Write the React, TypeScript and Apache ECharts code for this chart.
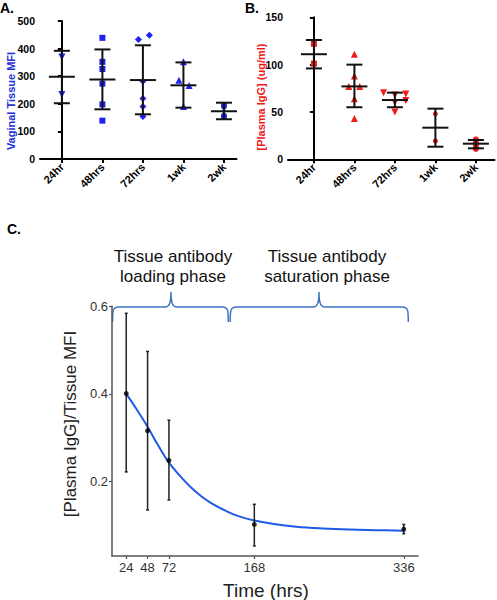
import React, { useEffect, useRef } from "react";
import * as echarts from "echarts";

// ---------- Panel A: Vaginal tissue MFI ----------
const categories = ["24hr", "48hrs", "72hrs", "1wk", "2wk"];
const tissueMean = [298, 288, 286, 267, 173];
const tissueLow = [202, 180, 162, 186, 144];
const tissueHigh = [392, 397, 412, 350, 204];
const tissue24 = [370, 234];
const tissue48 = [439, 352, 326, 273, 198, 139];
const tissue72 = [433, 448, 282, 219, 190, 154];
const tissue72Jitter = [-0.11, 0.16, 0, 0, 0, 0];
const tissue1wk = [352, 285, 266, 190];
const tissue1wkJitter = [0, -0.11, 0.14, 0];
const tissue2wk = [196, 190, 157, 152];

// ---------- Panel B: Plasma IgG ----------
const plasmaMean = [111, 77, 62.6, 33.4, 16.5];
const plasmaLow = [96, 55, 55, 13.3, 11.6];
const plasmaHigh = [126, 100, 70.4, 53.5, 20.4];
const plasma24 = [122, 101];
const plasma48 = [111, 88, 77, 77, 64, 43];
const plasma48Jitter = [0, 0, -0.14, 0.13, 0, 0];
const plasma72 = [70.4, 68, 69, 62, 60, 50];
const plasma72Jitter = [-0.28, 0, 0.27, 0.27, 0, 0];
const plasma1wk = [48, 19.3];
const plasma2wk = [21, 18, 15.5, 13, 11];

// ---------- Panel C: ratio over time ----------
const hours = [24, 48, 72, 168, 336];
const ratioMean = [0.401, 0.316, 0.248, 0.102, 0.091];
const ratioLow = [0.222, 0.135, 0.158, 0.053, 0.081];
const ratioHigh = [0.584, 0.497, 0.34, 0.148, 0.102];
const fitHours = [24, 36, 48, 60, 72, 84, 96, 108, 120, 135, 150, 168, 190, 215, 245, 275, 305, 336];
const fitValues = [0.4, 0.364, 0.325, 0.282, 0.243, 0.214, 0.188, 0.167, 0.15, 0.134, 0.121, 0.111, 0.103, 0.097, 0.093, 0.0905, 0.089, 0.0876];
const ratioTicks = [0.2, 0.4, 0.6];

const FONT = "Liberation Sans";
const BLUE = "#1f22f0";
const RED = "#f21a1a";
const BRACE = "#3f72c4";

function pts(values: number[], idx: number, jitter?: number[]) {
  return values.map((v, i) => [idx + (jitter ? jitter[i] : 0), v]);
}

function errSeries(
  xi: number,
  mean: number[],
  low: number[],
  high: number[],
  xs: number[],
  cap: number,
  meanHalf: number,
  color: string,
  lw: number
) {
  return {
    type: "custom",
    xAxisIndex: xi,
    yAxisIndex: xi,
    z: 5,
    data: mean.map((m, i) => [xs[i], m, low[i], high[i]]),
    encode: { x: 0, y: [1, 2, 3] },
    renderItem: (_p: any, api: any) => {
      const x = api.value(0);
      const pm = api.coord([x, api.value(1)]);
      const pl = api.coord([x, api.value(2)]);
      const ph = api.coord([x, api.value(3)]);
      const style = { stroke: color, lineWidth: lw };
      const children: any[] = [
        { type: "line", shape: { x1: pm[0], y1: ph[1], x2: pm[0], y2: pl[1] }, style },
        { type: "line", shape: { x1: pm[0] - cap, y1: ph[1], x2: pm[0] + cap, y2: ph[1] }, style },
        { type: "line", shape: { x1: pm[0] - cap, y1: pl[1], x2: pm[0] + cap, y2: pl[1] }, style },
      ];
      if (meanHalf > 0) {
        children.push({
          type: "line",
          shape: { x1: pm[0] - meanHalf, y1: pm[1], x2: pm[0] + meanHalf, y2: pm[1] },
          style,
        });
      }
      return { type: "group", children };
    },
  };
}

function scat(xi: number, data: number[][], symbol: string, color: string, size: number, rotate = 0) {
  return {
    type: "scatter",
    xAxisIndex: xi,
    yAxisIndex: xi,
    symbol,
    symbolSize: size,
    symbolRotate: rotate,
    itemStyle: { color, opacity: 1 },
    data,
    z: 3,
  };
}

function catXAxis(grid: number, min: number, max: number) {
  return {
    gridIndex: grid,
    type: "value",
    min,
    max,
    axisLine: { show: true, onZero: false, lineStyle: { color: "#000", width: 2 } },
    axisTick: { show: true, customValues: [0, 1, 2, 3, 4], length: 4, lineStyle: { color: "#000", width: 2 } },
    axisLabel: {
      customValues: [0, 1, 2, 3, 4],
      rotate: 45,
      formatter: (v: number) => categories[Math.round(v)],
      fontWeight: "bold",
      fontSize: 11,
      fontFamily: FONT,
      color: "#000",
      margin: 6,
    },
    splitLine: { show: false },
  };
}

function catYAxis(grid: number, min: number, max: number, interval: number) {
  return {
    gridIndex: grid,
    type: "value",
    min,
    max,
    interval,
    axisLine: { show: true, lineStyle: { color: "#000", width: 2 } },
    axisTick: { show: true, length: 4, lineStyle: { color: "#000", width: 2 } },
    axisLabel: { fontWeight: "bold", fontSize: 10.5, fontFamily: FONT, color: "#000", margin: 5 },
    splitLine: { show: false },
  };
}

function bracePath(a: number, b: number, m: number) {
  const base = 307;
  const top = 292;
  const end = 322;
  return (
    `M ${a} ${end} C ${a} ${base + 4} ${a} ${base} ${a + 6} ${base} ` +
    `L ${m - 6} ${base} C ${m - 2} ${base} ${m} ${base - 3} ${m} ${top} ` +
    `C ${m} ${base - 3} ${m + 2} ${base} ${m + 6} ${base} ` +
    `L ${b - 6} ${base} C ${b} ${base} ${b} ${base + 4} ${b} ${end}`
  );
}

export default function App() {
  const ref = useRef<HTMLDivElement>(null);

  useEffect(() => {
    if (!ref.current) return;
    echarts.graphic.registerShape("braceLoad", echarts.graphic.extendPath(bracePath(112.5, 228.3, 171), {}));
    echarts.graphic.registerShape("braceSat", echarts.graphic.extendPath(bracePath(230.2, 408.3, 319), {}));
    const chart = echarts.init(ref.current, undefined, { renderer: "svg" });
    const idx = [0, 1, 2, 3, 4];

    const option: any = {
      animation: false,
      textStyle: { fontFamily: FONT },
      grid: [
        { left: 40, top: 21, width: 196.5, height: 138 },
        { left: 288, top: 17.3, width: 206.5, height: 142 },
        { left: 112, top: 306.3, width: 306, height: 249.7 },
      ],
      xAxis: [
        catXAxis(0, -0.54, 4.31),
        catXAxis(1, -0.64, 4.46),
        {
          gridIndex: 2,
          type: "value",
          min: 8,
          max: 352,
          axisLine: { show: true, onZero: false, lineStyle: { color: "#555", width: 1.5 } },
          axisTick: { show: true, customValues: hours, length: 3, lineStyle: { color: "#555", width: 1.2 } },
          axisLabel: { customValues: hours, fontSize: 13, fontFamily: FONT, color: "#333", margin: 5 },
          splitLine: { show: false },
        },
      ],
      yAxis: [
        catYAxis(0, 0, 500, 100),
        catYAxis(1, 0, 150, 50),
        {
          gridIndex: 2,
          type: "value",
          min: 0.03,
          max: 0.6,
          axisLine: { show: true, onZero: false, lineStyle: { color: "#555", width: 1.5 } },
          axisTick: { show: true, customValues: ratioTicks, length: 3, lineStyle: { color: "#555", width: 1.2 } },
          axisLabel: {
            customValues: ratioTicks,
            formatter: (v: number) => v.toFixed(1),
            fontSize: 13,
            fontFamily: FONT,
            color: "#333",
            margin: 4,
          },
          splitLine: { show: false },
        },
      ],
      series: [
        // Panel A points
        scat(0, pts(tissue24, 0), "triangle", BLUE, 7, 180),
        scat(0, pts(tissue48, 1), "rect", BLUE, 6),
        scat(0, pts(tissue72, 2, tissue72Jitter), "diamond", BLUE, 7),
        scat(0, pts(tissue1wk, 3, tissue1wkJitter), "triangle", BLUE, 7),
        scat(0, pts(tissue2wk, 4), "circle", BLUE, 6),
        errSeries(0, tissueMean, tissueLow, tissueHigh, idx, 8, 13, "#111", 2),
        // Panel B points
        scat(1, pts(plasma24, 0), "rect", RED, 6),
        scat(1, pts(plasma48, 1, plasma48Jitter), "triangle", RED, 7),
        scat(1, pts(plasma72, 2, plasma72Jitter), "triangle", RED, 7, 180),
        scat(1, pts(plasma1wk, 3), "circle", RED, 5),
        scat(1, pts(plasma2wk, 4), "circle", RED, 6),
        errSeries(1, plasmaMean, plasmaLow, plasmaHigh, idx, 8, 13, "#111", 2),
        // Panel C
        {
          type: "line",
          xAxisIndex: 2,
          yAxisIndex: 2,
          data: fitHours.map((h, i) => [h, fitValues[i]]),
          smooth: 0.4,
          showSymbol: false,
          lineStyle: { color: "#1f5ae6", width: 2 },
          z: 2,
        },
        errSeries(2, ratioMean, ratioLow, ratioHigh, hours, 1.5, 0, "#222", 1.5),
        {
          type: "scatter",
          xAxisIndex: 2,
          yAxisIndex: 2,
          symbol: "circle",
          symbolSize: 5,
          itemStyle: { color: "#000" },
          data: hours.map((h, i) => [h, ratioMean[i]]),
          z: 6,
        },
      ],
      graphic: [
        { type: "text", x: 0, y: 8, style: { text: "A.", font: `bold 14px ${FONT}`, fill: "#000", verticalAlign: "middle" } },
        { type: "text", x: 245, y: 8, style: { text: "B.", font: `bold 14px ${FONT}`, fill: "#000", verticalAlign: "middle" } },
        { type: "text", x: 7, y: 229, style: { text: "C.", font: `bold 14px ${FONT}`, fill: "#000", verticalAlign: "middle" } },
        {
          type: "text",
          x: 10.5,
          y: 101,
          rotation: Math.PI / 2,
          style: { text: "Vaginal Tissue MFI", font: `bold 11px ${FONT}`, fill: "#2430d8", align: "center", verticalAlign: "middle" },
        },
        {
          type: "text",
          x: 261,
          y: 97,
          rotation: Math.PI / 2,
          style: { text: "[Plasma IgG] (ug/ml)", font: `bold 11px ${FONT}`, fill: "#f01818", align: "center", verticalAlign: "middle" },
        },
        {
          type: "text",
          x: 70,
          y: 424,
          rotation: Math.PI / 2,
          style: { text: "[Plasma IgG]/Tissue MFI", font: `17px ${FONT}`, fill: "#222", align: "center", verticalAlign: "middle" },
        },
        {
          type: "text",
          x: 266,
          y: 590,
          style: { text: "Time (hrs)", font: `19px ${FONT}`, fill: "#222", align: "center", verticalAlign: "middle" },
        },
        {
          type: "text",
          x: 173,
          y: 266.5,
          style: {
            text: "Tissue antibody\nloading phase",
            font: `17px ${FONT}`,
            lineHeight: 20.7,
            fill: "#111",
            align: "center",
            verticalAlign: "middle",
          },
        },
        {
          type: "text",
          x: 327,
          y: 266.5,
          style: {
            text: "Tissue antibody\nsaturation phase",
            font: `17px ${FONT}`,
            lineHeight: 20.7,
            fill: "#111",
            align: "center",
            verticalAlign: "middle",
          },
        },
        { type: "braceLoad", x: 0, y: 0, style: { stroke: BRACE, lineWidth: 1.5, fill: "none" } },
        { type: "braceSat", x: 0, y: 0, style: { stroke: BRACE, lineWidth: 1.5, fill: "none" } },
      ],
    };

    chart.setOption(option);
    return () => chart.dispose();
  }, []);

  return (
    <div
      ref={ref}
      style={{ position: "fixed", left: 0, top: 0, width: 497, height: 600, background: "#fff" }}
    />
  );
}
